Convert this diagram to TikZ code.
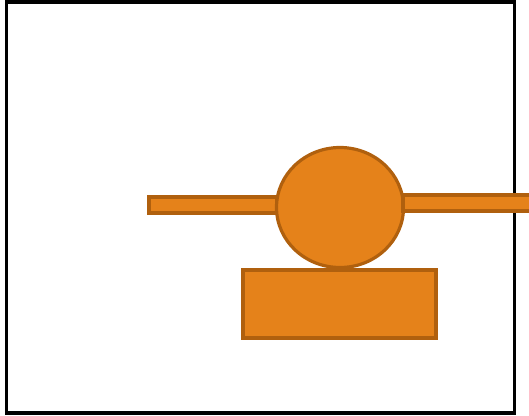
\documentclass[tikz,border=0pt]{standalone}
\usetikzlibrary{shapes.geometric}
\definecolor{fillor}{HTML}{E5821A}
\definecolor{lineor}{HTML}{B0600E}
\tikzset{
  part/.style={draw=lineor, fill=fillor, line width=3.2pt, inner sep=0pt, outer sep=0pt},
  frame/.style={draw=black, line width=3.4pt, inner sep=0pt, outer sep=0pt}
}
\begin{document}
\begin{tikzpicture}[x=1pt,y=-1pt]
\useasboundingbox (0,0) rectangle (529,415);
\node[frame, minimum width=508pt, minimum height=411pt] (border) at (260.5,207.5) {};
\node[part, minimum width=128pt, minimum height=16pt] (leftbar) at (213,205) {};
\node[part, ellipse, minimum width=127pt, minimum height=120pt] (hub) at (340,207.5) {};
\node[part, minimum width=134pt, minimum height=16pt, anchor=west] (rightbar) at (403,203) {};
\node[part, minimum width=193pt, minimum height=68pt] (base) at (339.5,304) {};
\end{tikzpicture}
\end{document}
